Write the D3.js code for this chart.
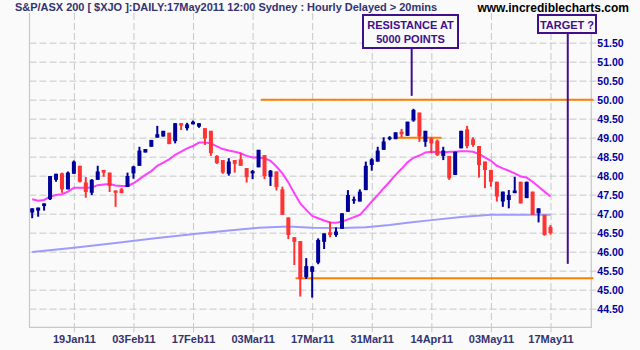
<!DOCTYPE html>
<html>
<head>
<meta charset="utf-8">
<script src="https://cdn.jsdelivr.net/npm/d3@7"></script>
<style>
  body { margin: 0; background: #fafafa; }
  svg { display: block; }
</style>
</head>
<body>
<div id="chart"></div>
<script>
// Daily candles, index 0 = 10Jan11 ... 87 = 17May11 (values in hundreds of points)
const opens = [47.03, 47.08, 47.20, 47.38, 47.89, 48.06, 47.64, 48.05, 48.26, 47.82,
  47.55, 47.89, 48.15, 48.08, 47.61, 47.64, 47.70, 48.06, 48.26, 48.61,
  48.76, 49.00, 49.03, 49.13, 48.91, 49.38, 49.25, 49.35, 49.29, 49.25,
  49.18, 48.52, 48.41, 48.05, 48.41, 48.43, 48.20, 48.06, 48.22, 48.54,
  47.97, 48.11, 47.64, 46.90, 46.38, 46.28, 45.33, 45.47, 45.71, 46.26,
  46.51, 46.44, 46.60, 47.05, 47.34, 47.32, 47.62, 48.28, 48.37, 48.68,
  48.96, 48.96, 49.16, 49.05, 49.45, 49.66, 48.89, 48.98, 48.92, 48.52,
  48.52, 48.02, 48.72, 49.22, 48.96, 48.78, 48.37, 48.15, 47.84, 47.32,
  47.36, 47.54, 47.84, 47.41, 47.58, 47.01, 46.97, 46.65];
const highs = [47.14, 47.16, 47.27, 47.99, 48.05, 48.08, 48.11, 48.40, 48.26, 47.96,
  47.91, 48.26, 48.15, 48.08, 47.61, 47.68, 48.08, 48.26, 48.76, 48.70,
  48.94, 49.31, 49.18, 49.13, 49.38, 49.38, 49.39, 49.45, 49.38, 49.25,
  49.18, 48.54, 48.41, 48.46, 48.41, 48.59, 48.20, 48.15, 48.68, 48.54,
  48.15, 48.11, 47.71, 46.90, 46.38, 46.28, 45.83, 45.62, 46.35, 46.48,
  46.79, 46.64, 47.01, 47.62, 47.45, 47.64, 48.37, 48.46, 48.76, 49.01,
  49.04, 49.14, 49.23, 49.42, 49.76, 49.66, 49.18, 49.01, 48.95, 48.76,
  48.52, 48.63, 49.18, 49.31, 49.01, 48.78, 48.37, 48.15, 47.84, 47.58,
  47.62, 47.97, 47.84, 47.84, 47.58, 47.14, 46.97, 46.70];
const lows = [46.88, 46.92, 47.08, 47.36, 47.84, 47.55, 47.64, 48.05, 47.82, 47.42,
  47.49, 47.89, 47.97, 47.57, 47.18, 47.54, 47.70, 47.92, 48.26, 48.61,
  48.76, 49.00, 49.03, 48.83, 48.85, 49.20, 49.19, 49.35, 49.26, 48.81,
  48.52, 48.31, 48.05, 48.00, 48.08, 48.26, 47.82, 47.91, 48.22, 47.91,
  47.73, 47.61, 46.97, 46.33, 45.65, 44.82, 45.28, 44.79, 45.67, 46.07,
  46.38, 46.39, 46.60, 47.05, 47.26, 47.32, 47.62, 48.13, 48.37, 48.68,
  48.93, 48.96, 49.01, 49.05, 49.42, 48.89, 48.76, 48.59, 48.52, 48.41,
  47.89, 48.02, 48.72, 48.72, 48.76, 47.95, 47.67, 47.71, 47.32, 47.18,
  47.14, 47.54, 47.27, 47.41, 46.97, 46.77, 46.42, 46.45];
const closes = [47.14, 47.16, 47.27, 47.99, 48.05, 47.64, 48.08, 48.37, 47.84, 47.57,
  47.89, 48.11, 48.08, 47.73, 47.55, 47.54, 47.99, 48.24, 48.66, 48.70,
  48.94, 49.09, 49.18, 48.83, 49.38, 49.32, 49.35, 49.42, 49.38, 48.98,
  48.59, 48.33, 48.08, 48.37, 48.31, 48.26, 47.96, 48.12, 48.68, 47.99,
  48.13, 47.70, 46.97, 46.44, 46.26, 45.28, 45.62, 45.61, 46.31, 46.48,
  46.44, 46.53, 47.01, 47.49, 47.38, 47.58, 48.26, 48.43, 48.66, 48.90,
  49.01, 49.14, 49.09, 49.42, 49.73, 49.03, 49.18, 48.85, 48.54, 48.66,
  47.93, 48.63, 49.18, 48.78, 48.81, 48.28, 48.15, 47.84, 47.45, 47.58,
  47.49, 47.61, 47.27, 47.84, 46.97, 47.14, 46.44, 46.49];

// Short moving average (magenta), one value per candle
const fastMA = [47.38, 47.34, 47.36, 47.45, 47.49, 47.51, 47.58, 47.68, 47.68, 47.68,
  47.69, 47.75, 47.77, 47.78, 47.74, 47.73, 47.73, 47.80, 47.91, 48.02,
  48.12, 48.26, 48.34, 48.43, 48.55, 48.63, 48.72, 48.78, 48.87, 48.87,
  48.85, 48.77, 48.70, 48.66, 48.63, 48.59, 48.52, 48.48, 48.48, 48.46,
  48.39, 48.24, 48.06, 47.82, 47.54, 47.27, 47.10, 46.94, 46.88, 46.82,
  46.77, 46.76, 46.79, 46.85, 46.91, 46.97, 47.14, 47.32, 47.49, 47.67,
  47.84, 48.02, 48.18, 48.35, 48.47, 48.53, 48.61, 48.63, 48.62, 48.61,
  48.63, 48.63, 48.64, 48.64, 48.63, 48.57, 48.48, 48.39, 48.26, 48.19,
  48.13, 48.06, 47.98, 47.95, 47.84, 47.71, 47.58, 47.45];

// Long moving average (lavender), read at these candle indexes
const slowIdx = [0, 7, 14, 21, 28, 33, 38, 43, 47, 52, 56, 60, 63, 67, 72, 77, 87];
const slowMA = [45.99, 46.10, 46.23, 46.36, 46.48, 46.56, 46.63, 46.66, 46.63, 46.62,
  46.64, 46.70, 46.76, 46.83, 46.91, 46.97, 46.97];

// Axis ticks
const xTickIdx = [7, 17, 27, 37, 47, 57, 67, 77, 87];
const xTickLabels = ["19Jan11", "03Feb11", "17Feb11", "03Mar11", "17Mar11",
  "31Mar11", "14Apr11", "03May11", "17May11"];
const yTicks = [44.5, 45, 45.5, 46, 46.5, 47, 47.5, 48, 48.5, 49, 49.5, 50, 50.5, 51, 51.5];

// Trend lines drawn on the chart: [start index, end index, level]
const trendLines = [[38.4, 94.2, 50.0], [60.9, 68.7, 49.0], [44.2, 94.2, 45.3]];

const width = 640;
const height = 350;
const plot = { left: 29.5, right: 591.3, top: 13, bottom: 327.3 };

const svg = d3.select("#chart").append("svg")
  .attr("width", width)
  .attr("height", height)
  .style("background", "#fafafa");

const x = d3.scaleLinear().domain([-0.45, 93.85]).range([plot.left, plot.right]);
const y = d3.scaleLinear().domain([44.01, 52.28]).range([plot.bottom, plot.top]);

const gridColour = "#c8c8c8";
const plotW = plot.right - plot.left;

// Horizontal grid + right axis
const yAxis = d3.axisRight(y)
  .tickValues(yTicks)
  .tickFormat(d3.format(".2f"))
  .tickSize(plotW)
  .tickPadding(1);
const gy = svg.append("g")
  .attr("transform", `translate(${plot.left},0)`)
  .call(yAxis);
gy.select(".domain").remove();
gy.selectAll(".tick line")
  .attr("stroke", gridColour)
  .attr("stroke-dasharray", "7,3");
// solid little tick outside the frame
gy.selectAll(".tick").append("line")
  .attr("x1", plotW)
  .attr("x2", plotW + 5)
  .attr("stroke", gridColour);
gy.selectAll(".tick text")
  .attr("x", plotW + 6)
  .attr("fill", "#0000a0")
  .style("font", "bold 10.5px 'Liberation Sans', Arial, sans-serif");

// Vertical grid + bottom axis
const xAxis = d3.axisBottom(x)
  .tickValues(xTickIdx)
  .tickFormat((d, i) => xTickLabels[i])
  .tickSize(0)
  .tickPadding(0);
const gx = svg.append("g")
  .attr("transform", `translate(0,${plot.bottom})`)
  .call(xAxis);
gx.select(".domain").remove();
gx.selectAll(".tick line")
  .attr("y1", plot.top - plot.bottom)
  .attr("y2", 0)
  .attr("stroke", gridColour)
  .attr("stroke-dasharray", "7,3");
gx.selectAll(".tick").append("line")
  .attr("y1", 0)
  .attr("y2", 5)
  .attr("stroke", gridColour);
gx.selectAll(".tick text")
  .attr("y", 8)
  .attr("fill", "#333370")
  .style("font", "bold 11px 'Liberation Sans', Arial, sans-serif");

// Plot frame (left, right, bottom)
svg.append("path")
  .attr("d", `M${plot.left},${plot.top}V${plot.bottom}H${plot.right}V${plot.top}`)
  .attr("fill", "none")
  .attr("stroke", gridColour)
  .attr("stroke-width", 1.2);

// Moving averages
const slowLine = d3.line().x((d) => x(d[0])).y((d) => y(d[1]));
svg.append("path")
  .datum(slowIdx.map((d, i) => [d, slowMA[i]]))
  .attr("d", slowLine)
  .attr("fill", "none")
  .attr("stroke", "#9c9cff")
  .attr("stroke-width", 2);

const fastLine = d3.line().x((d, i) => x(i)).y((d) => y(d));
svg.append("path")
  .datum(fastMA)
  .attr("d", fastLine)
  .attr("fill", "none")
  .attr("stroke", "#ff40ff")
  .attr("stroke-width", 2);

// Orange trend lines
svg.selectAll("line.trend")
  .data(trendLines)
  .enter()
  .append("line")
  .attr("class", "trend")
  .attr("x1", (d) => x(d[0]))
  .attr("x2", (d) => x(d[1]))
  .attr("y1", (d) => y(d[2]))
  .attr("y2", (d) => y(d[2]))
  .attr("stroke", "#ff8000")
  .attr("stroke-width", 2);

// Candles
const candles = opens.map((o, i) => ({
  i, o, h: highs[i], l: lows[i], c: closes[i],
}));
const up = "#000099";
const down = "#ff3333";
const bodyW = 4;

const cg = svg.selectAll("g.candle")
  .data(candles)
  .enter()
  .append("g")
  .attr("class", "candle");

cg.append("line")
  .attr("x1", (d) => x(d.i))
  .attr("x2", (d) => x(d.i))
  .attr("y1", (d) => y(d.h))
  .attr("y2", (d) => y(d.l))
  .attr("stroke", (d) => (d.c >= d.o ? up : down))
  .attr("stroke-width", 2);

cg.append("rect")
  .attr("x", (d) => x(d.i) - bodyW / 2)
  .attr("width", bodyW)
  .attr("y", (d) => y(Math.max(d.o, d.c)))
  .attr("height", (d) => Math.max(1.5, Math.abs(y(d.o) - y(d.c))))
  .attr("fill", (d) => (d.c >= d.o ? up : down));

// Title + site name
svg.append("text")
  .attr("x", 15)
  .attr("y", 11)
  .attr("fill", "#333370")
  .attr("textLength", 422)
  .style("font", "bold 11px 'Liberation Sans', Arial, sans-serif")
  .text("S&P/ASX 200 [ $XJO ]:DAILY:17May2011 12:00 Sydney : Hourly Delayed > 20mins");

svg.append("text")
  .attr("x", 629)
  .attr("y", 11.5)
  .attr("text-anchor", "end")
  .attr("fill", "#000")
  .style("font", "bold 12px 'Liberation Sans', Arial, sans-serif")
  .text("www.incrediblecharts.com");

// Callout boxes
const ink = "#40108a";
const callouts = [
  { lines: ["RESISTANCE AT", "5000 POINTS"], idx: 63.7, level: 50.1, box: [363, 15, 95, 33] },
  { lines: ["TARGET ?"], idx: 89.9, level: 45.68, box: [538, 15, 58, 18] },
];
callouts.forEach((c) => {
  const [bx, by, bw, bh] = c.box;
  svg.append("line")
    .attr("x1", x(c.idx)).attr("x2", x(c.idx))
    .attr("y1", by + bh).attr("y2", y(c.level))
    .attr("stroke", ink).attr("stroke-width", 2);
  svg.append("rect")
    .attr("x", bx).attr("y", by).attr("width", bw).attr("height", bh)
    .attr("fill", "#fafafa").attr("stroke", ink).attr("stroke-width", 2);
  c.lines.forEach((t, k) => {
    svg.append("text")
      .attr("x", bx + bw / 2)
      .attr("y", by + 14 + k * 14)
      .attr("text-anchor", "middle")
      .attr("fill", ink)
      .style("font", "bold 11px 'Liberation Sans', Arial, sans-serif")
      .text(t);
  });
});
</script>
</body>
</html>
